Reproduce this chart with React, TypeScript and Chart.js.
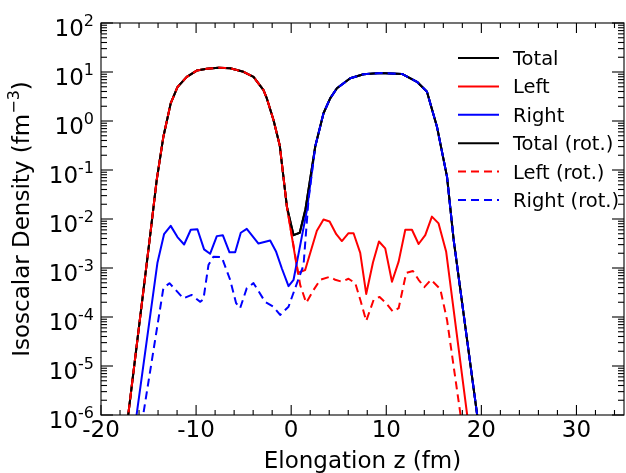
import React, { useEffect, useRef } from 'react';
import { Chart, registerables } from 'chart.js';
Chart.register(...registerables);

// ---------- axes ----------
const X_MIN = -20;
const X_MAX = 35;
const Y_MIN = 1e-6;
const Y_MAX = 1e2;
const X_MAJOR_TICKS = [-20, -10, 0, 10, 20, 30];
const X_TICK_LABELS = ['-20', '-10', '0', '10', '20', '30'];
const X_MINOR_TICKS = [-18, -16, -14, -12, -8, -6, -4, -2, 2, 4, 6, 8, 12, 14, 16, 18, 22, 24, 26, 28, 32, 34];
const Y_DECADES = [1e-6, 1e-5, 1e-4, 1e-3, 1e-2, 1e-1, 1, 1e1, 1e2];
const Y_TICK_EXPONENTS = ['-6', '-5', '-4', '-3', '-2', '-1', '0', '1', '2'];
const Y_MINOR_FACTORS = [2, 3, 4, 5, 6, 7, 8, 9];
const X_TITLE = 'Elongation z (fm)';
const Y_TITLE_MAIN = 'Isoscalar Density (fm';
const Y_TITLE_SUP = '\u22123';
const Y_TITLE_END = ')';

// ---------- data (fm, fm^-3) ----------
// left fragment hump (shared by Total, Left and their rotated versions)
const LEFT_HUMP_X = [-17.8, -17.12, -14.84, -14.14, -13.44, -12.67, -11.96, -10.98, -9.93, -8.87, -7.65, -6.42, -5.02, -3.96, -2.91, -2.56, -1.86, -1.2, -0.45];
const LEFT_HUMP_Y = [1e-7, 1.07e-6, 4.47e-3, 0.063, 0.479, 2.29, 4.9, 7.94, 10.7, 11.6, 12.2, 11.9, 10.1, 7.94, 4.27, 2.88, 1.05, 0.316, 0.0178];
// right fragment hump (shared by Total, Right and their rotated versions)
const RIGHT_HUMP_X = [2.53, 3.4, 4.1, 4.81, 6.21, 7.61, 9.37, 11.65, 13.23, 14.28, 15.33, 16.39, 17.09, 19.54, 20.3];
const RIGHT_HUMP_Y = [0.302, 1.44, 2.9, 4.65, 7.43, 8.97, 9.55, 9.12, 6.31, 3.96, 0.766, 0.0724, 3.72e-3, 1.07e-6, 1e-7];
// neck of the total density
const TOTAL_NECK_X = [0.25, 0.9, 1.5];
const TOTAL_NECK_Y = [4.68e-3, 5.25e-3, 0.0158];
// left fragment density on the right side
const LEFT_TAIL_X = [0.7, 1.47, 2.7, 3.4, 4.04, 4.74, 5.33, 6.03, 6.56, 7.26, 7.89, 8.6, 9.23, 9.89, 10.6, 11.3, 12.0, 12.7, 13.4, 14.1, 14.8, 15.5, 16.3, 18.49, 19.1];
const LEFT_TAIL_Y = [7.94e-4, 9.12e-4, 5.75e-3, 9.77e-3, 8.91e-3, 4.9e-3, 3.55e-3, 5.13e-3, 5.13e-3, 2.04e-3, 2.95e-4, 1.29e-3, 3.47e-3, 2.51e-3, 5.25e-4, 1.35e-3, 6.03e-3, 6.03e-3, 3.09e-3, 4.68e-3, 0.0112, 8.13e-3, 2.14e-3, 1.07e-6, 1.6e-7];
// right fragment density on the left side
const RIGHT_TAIL_X = [-16.8, -16.24, -14.07, -13.37, -12.67, -11.96, -11.26, -10.56, -9.86, -9.16, -8.53, -7.82, -7.19, -6.49, -5.89, -5.3, -4.67, -3.44, -2.21, -1.58, -0.98, -0.28, 0.25, 1.0, 1.65];
const RIGHT_TAIL_Y = [1e-7, 1.07e-6, 1.26e-3, 4.9e-3, 7.24e-3, 4.27e-3, 3.02e-3, 6.03e-3, 6.17e-3, 2.4e-3, 1.95e-3, 4.47e-3, 4.68e-3, 2.09e-3, 2.09e-3, 5.25e-3, 6.31e-3, 3.16e-3, 3.63e-3, 2.14e-3, 9.77e-4, 4.27e-4, 5.75e-4, 3.3e-3, 0.0151];
// rotated: left fragment on the right side
const LEFT_ROT_TAIL_X = [0.95, 1.58, 2.35, 3.05, 4.04, 4.63, 5.33, 6.03, 6.74, 7.33, 7.89, 8.67, 9.3, 10.0, 10.7, 11.3, 12.1, 12.8, 13.4, 14.0, 14.7, 15.68, 16.39, 17.79, 18.3];
const LEFT_ROT_TAIL_Y = [4.47e-4, 1.95e-4, 3.55e-4, 5.75e-4, 6.61e-4, 5.75e-4, 5.25e-4, 6.03e-4, 4.9e-4, 2.04e-4, 8.32e-5, 2.24e-4, 2.57e-4, 1.91e-4, 1.29e-4, 1.51e-4, 7.94e-4, 8.71e-4, 5.75e-4, 4.07e-4, 5.75e-4, 3.72e-4, 8.71e-5, 1.07e-6, 2e-7];
// rotated: right fragment on the left side
const RIGHT_ROT_TAIL_X = [-16.0, -15.54, -13.44, -12.8, -11.34, -10.46, -9.58, -9.23, -8.7, -8.18, -7.3, -6.42, -5.79, -5.37, -4.67, -3.96, -2.74, -1.86, -1.16, -0.28, 0.42, 1.3, 1.82];
const RIGHT_ROT_TAIL_Y = [1e-7, 1.07e-6, 3.89e-4, 4.9e-4, 2.4e-4, 2.82e-4, 2.04e-4, 2.29e-4, 1.15e-3, 1.7e-3, 1.66e-3, 5.75e-4, 1.91e-4, 1.51e-4, 3.89e-4, 4.9e-4, 2.04e-4, 1.62e-4, 1.1e-4, 1.62e-4, 3.89e-4, 1.15e-3, 0.0245];

const SERIES_LABELS = ['Total', 'Left', 'Right', 'Total (rot.)', 'Left (rot.)', 'Right (rot.)'];
const SERIES_COLORS = ['#000000', '#ff0000', '#0000ff', '#000000', '#ff0000', '#0000ff'];
const SERIES_DASHED = [false, false, false, false, true, true];

const pts = (xs: number[], ys: number[]) => xs.map((x, i) => ({ x, y: ys[i] }));

const FONT = '"DejaVu Sans", "Liberation Sans", sans-serif';

const decorPlugin = {
  id: 'decor',
  afterDatasetsDraw(chart: any) {
    const { ctx, chartArea: a } = chart;
    const xs = chart.scales.x;
    const ys = chart.scales.y;
    ctx.save();
    ctx.strokeStyle = '#000';
    ctx.fillStyle = '#000';
    ctx.lineWidth = 1.1;
    const line = (x1: number, y1: number, x2: number, y2: number) => {
      ctx.beginPath();
      ctx.moveTo(x1, y1);
      ctx.lineTo(x2, y2);
      ctx.stroke();
    };
    // frame
    ctx.strokeRect(a.left, a.top, a.right - a.left, a.bottom - a.top);
    // x ticks (inward, bottom and top)
    X_MAJOR_TICKS.forEach((v) => {
      const px = xs.getPixelForValue(v);
      line(px, a.bottom, px, a.bottom - 10);
      line(px, a.top, px, a.top + 10);
    });
    X_MINOR_TICKS.forEach((v) => {
      const px = xs.getPixelForValue(v);
      line(px, a.bottom, px, a.bottom - 5);
      line(px, a.top, px, a.top + 5);
    });
    // y ticks (inward, left and right)
    Y_DECADES.forEach((d, i) => {
      const py = ys.getPixelForValue(d);
      line(a.left, py, a.left + 12, py);
      line(a.right, py, a.right - 12, py);
      if (i < Y_DECADES.length - 1) {
        Y_MINOR_FACTORS.forEach((f) => {
          const pm = ys.getPixelForValue(d * f);
          line(a.left, pm, a.left + 6, pm);
          line(a.right, pm, a.right - 6, pm);
        });
      }
    });
    // x tick labels
    ctx.font = `23px ${FONT}`;
    ctx.textAlign = 'center';
    ctx.textBaseline = 'alphabetic';
    X_MAJOR_TICKS.forEach((v, i) => {
      ctx.fillText(X_TICK_LABELS[i], xs.getPixelForValue(v), a.bottom + 22);
    });
    // y tick labels: 10^n
    Y_DECADES.forEach((d, i) => {
      const py = ys.getPixelForValue(d);
      const exp = Y_TICK_EXPONENTS[i];
      ctx.font = `16px ${FONT}`;
      const ew = ctx.measureText(exp).width;
      ctx.font = `23px ${FONT}`;
      const bw = ctx.measureText('10').width;
      const xr = a.left - 7;
      ctx.textAlign = 'left';
      ctx.fillText('10', xr - ew - bw, py + 12.5);
      ctx.font = `16px ${FONT}`;
      ctx.fillText(exp, xr - ew, py + 3);
    });
    // x title
    ctx.font = `23px ${FONT}`;
    ctx.textAlign = 'center';
    ctx.fillText(X_TITLE, (a.left + a.right) / 2, a.bottom + 53);
    // y title (rotated, with superscript)
    ctx.save();
    ctx.translate(29, (a.top + a.bottom) / 2);
    ctx.rotate(-Math.PI / 2);
    ctx.textAlign = 'left';
    ctx.font = `23px ${FONT}`;
    const w1 = ctx.measureText(Y_TITLE_MAIN).width;
    const w3 = ctx.measureText(Y_TITLE_END).width;
    ctx.font = `16px ${FONT}`;
    const w2 = ctx.measureText(Y_TITLE_SUP).width;
    const s = -(w1 + w2 + w3) / 2;
    ctx.font = `23px ${FONT}`;
    ctx.fillText(Y_TITLE_MAIN, s, 0);
    ctx.fillText(Y_TITLE_END, s + w1 + w2, 0);
    ctx.font = `16px ${FONT}`;
    ctx.fillText(Y_TITLE_SUP, s + w1, -10);
    ctx.restore();
    // legend
    const lx0 = a.left + 357;
    const lx1 = lx0 + 41;
    const ly0 = a.top + 35;
    const step = 28.4;
    chart.data.datasets.forEach((ds: any, i: number) => {
      const y = ly0 + i * step;
      ctx.save();
      ctx.strokeStyle = ds.borderColor;
      ctx.lineWidth = ds.borderWidth;
      ctx.setLineDash(ds.borderDash || []);
      ctx.lineCap = 'butt';
      line(lx0, y, lx1, y);
      ctx.restore();
      ctx.font = `19.5px ${FONT}`;
      ctx.textAlign = 'left';
      ctx.fillText(ds.label, lx1 + 14, y + 7);
    });
    ctx.restore();
  },
};

export default function App() {
  const ref = useRef<HTMLCanvasElement | null>(null);
  useEffect(() => {
    if (!ref.current) return;
    const seriesPoints = [
      pts([...LEFT_HUMP_X, ...TOTAL_NECK_X, ...RIGHT_HUMP_X], [...LEFT_HUMP_Y, ...TOTAL_NECK_Y, ...RIGHT_HUMP_Y]),
      pts([...LEFT_HUMP_X, ...LEFT_TAIL_X], [...LEFT_HUMP_Y, ...LEFT_TAIL_Y]),
      pts([...RIGHT_TAIL_X, ...RIGHT_HUMP_X], [...RIGHT_TAIL_Y, ...RIGHT_HUMP_Y]),
      pts([...LEFT_HUMP_X, ...TOTAL_NECK_X, ...RIGHT_HUMP_X], [...LEFT_HUMP_Y, ...TOTAL_NECK_Y, ...RIGHT_HUMP_Y]),
      pts([...LEFT_HUMP_X, ...LEFT_ROT_TAIL_X], [...LEFT_HUMP_Y, ...LEFT_ROT_TAIL_Y]),
      pts([...RIGHT_ROT_TAIL_X, ...RIGHT_HUMP_X], [...RIGHT_ROT_TAIL_Y, ...RIGHT_HUMP_Y]),
    ];
    const datasets = SERIES_LABELS.map((label, i) => ({
      label,
      data: seriesPoints[i],
      borderColor: SERIES_COLORS[i],
      backgroundColor: SERIES_COLORS[i],
      borderWidth: 2,
      borderDash: SERIES_DASHED[i] ? [8, 5] : [],
      borderCapStyle: 'butt' as const,
      borderJoinStyle: 'round' as const,
      pointRadius: 0,
      tension: 0,
      fill: false,
      order: SERIES_LABELS.length - 1 - i,
    }));
    const chart = new Chart(ref.current, {
      type: 'line',
      data: { datasets },
      options: {
        animation: false,
        responsive: false,
        events: [],
        layout: { padding: { left: 0, right: 2, top: 23, bottom: 0 } },
        plugins: { legend: { display: false }, tooltip: { enabled: false }, title: { display: false } },
        scales: {
          x: {
            type: 'linear',
            min: X_MIN,
            max: X_MAX,
            grid: { display: false },
            border: { display: false },
            ticks: { display: false },
            afterFit: (s: any) => { s.height = 58; },
          },
          y: {
            type: 'logarithmic',
            min: Y_MIN,
            max: Y_MAX,
            grid: { display: false },
            border: { display: false },
            ticks: { display: false },
            afterFit: (s: any) => { s.width = 101; },
          },
        },
      },
      plugins: [decorPlugin],
    });
    return () => chart.destroy();
  }, []);
  return (
    <div style={{ position: 'fixed', left: 0, top: 0, width: 626, height: 473, background: '#fff' }}>
      <canvas ref={ref} width={626} height={473} style={{ display: 'block' }} />
    </div>
  );
}
